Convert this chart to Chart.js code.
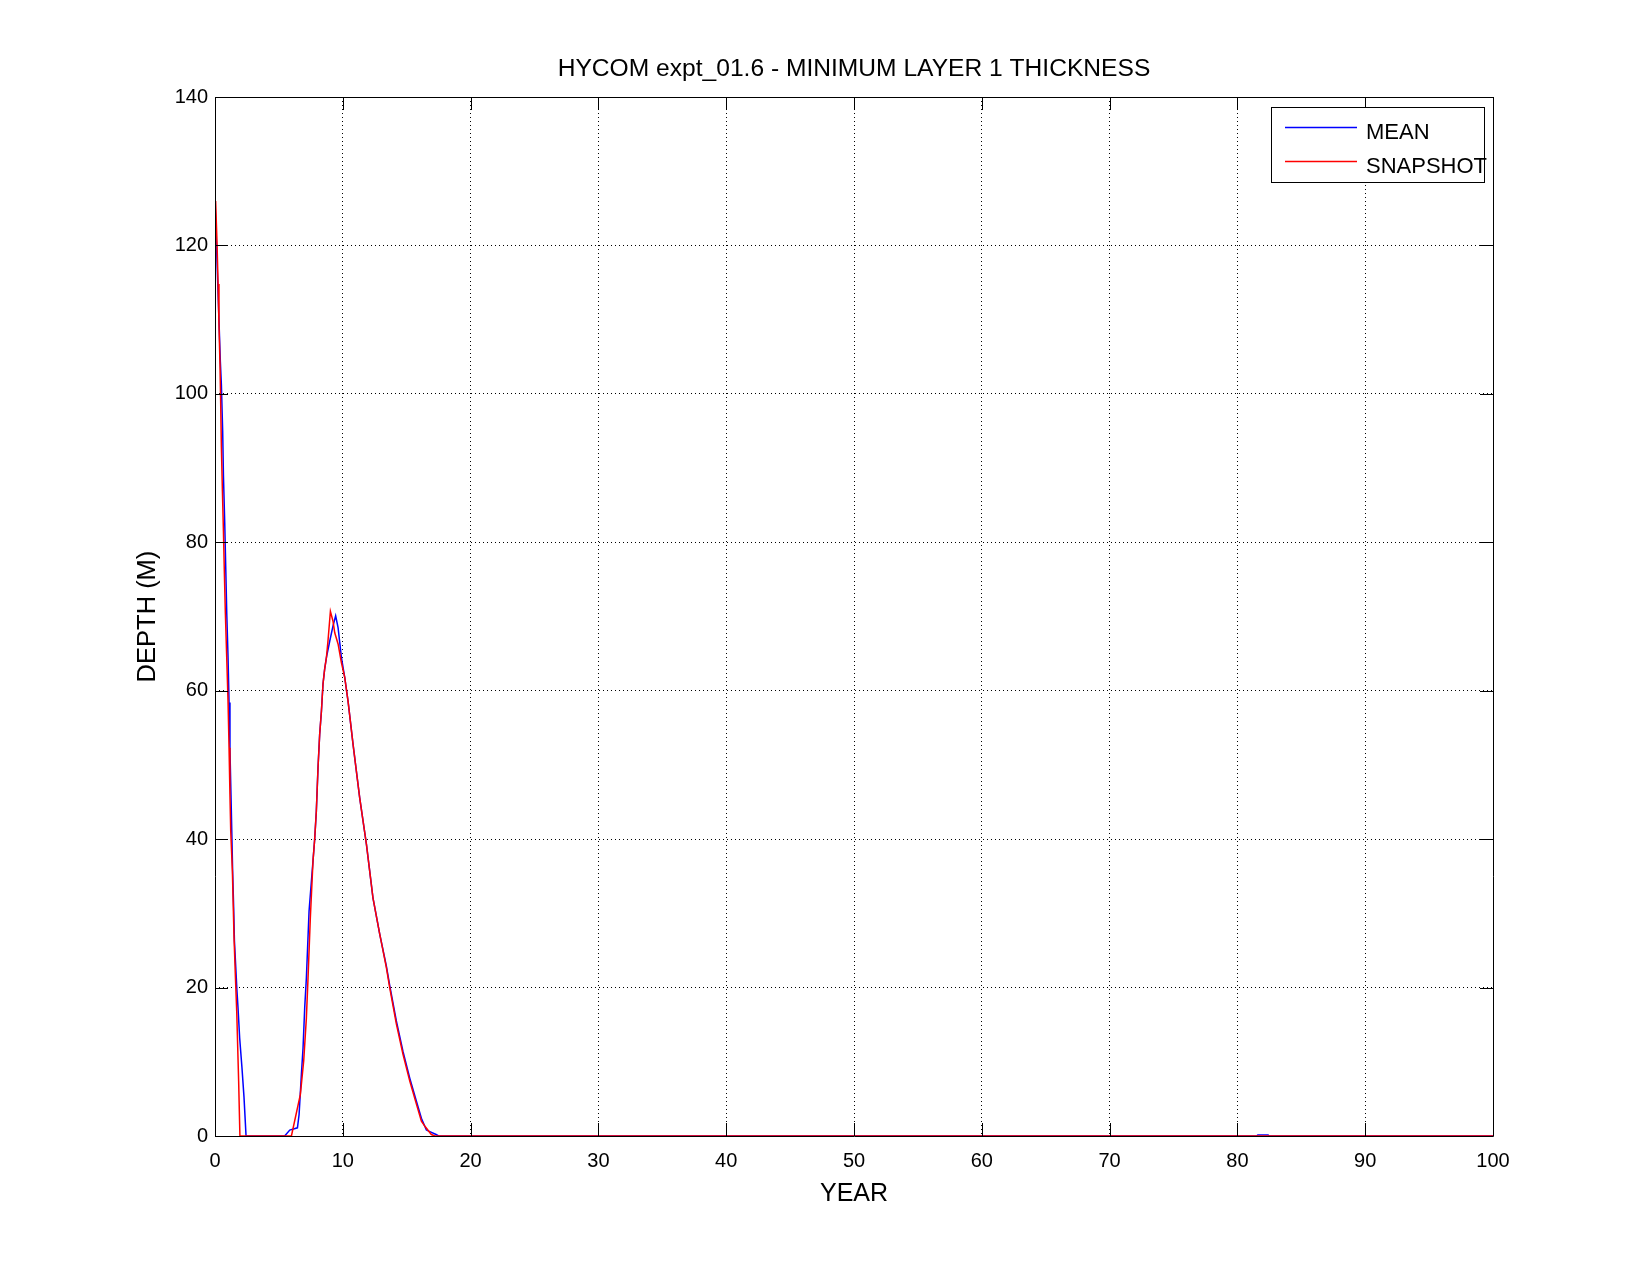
<!DOCTYPE html>
<html>
<head>
<meta charset="utf-8">
<title>HYCOM expt_01.6 - MINIMUM LAYER 1 THICKNESS</title>
<script src="https://cdn.jsdelivr.net/npm/chart.js@4/dist/chart.umd.min.js"></script>
<style>
  html, body { margin: 0; padding: 0; background: #ffffff; }
  #chart { display: block; }
</style>
</head>
<body>
<canvas id="chart" width="1650" height="1275"></canvas>
<script>
// values (year, depth in m)
const meanYears = [
  0, 0.42, 0.5, 0.6, 0.66, 0.76, 0.84, 0.92, 1.02, 1.1, 1.17, 1.25, 1.38, 1.46, 1.52,
  1.72, 1.8, 1.93, 2.11, 2.27, 2.43, 5.45, 5.85, 6.45, 6.58, 6.76, 6.89, 7.02, 7.15,
  7.36, 7.67, 7.8, 7.93, 8.06, 8.19, 8.33, 8.45, 8.58, 8.72, 8.98, 9.23, 9.44, 9.63,
  9.89, 10.15, 10.41, 10.8, 11.32, 11.85, 12.36, 12.89, 13.41, 13.67, 14.19, 14.71,
  15.24, 15.76, 16.15, 16.54, 17.3, 17.5, 81.5, 81.6, 82.4, 82.5, 100
];
const meanDepth = [
  126, 104.3, 101.2, 95, 89, 82.7, 76.6, 70.4, 64.5, 58.4, 52.1, 46, 35.7, 30.8, 26.3,
  19.5, 17.3, 13.2, 9.2, 5.2, 0, 0, 0.8, 1.1, 2.9, 8.3, 11.9, 17.3, 21.3,
  30.3, 37.1, 40, 43.8, 49.6, 54.1, 57.3, 60.9, 62.9, 64.5, 66.7, 68.7, 70.1, 68.5,
  64.5, 61.8, 58.6, 52.8, 45.6, 39.3, 32.1, 27.2, 22.9, 20.3, 15.5, 11.4,
  7.8, 4.7, 2.4, 0.8, 0.2, 0, 0, 0.15, 0.15, 0, 0
];

const snapshotYears = [
  0.05, 0.16, 0.24, 0.31, 0.39, 0.45, 0.5, 0.58, 0.66, 0.73, 0.81, 0.91, 1.02, 1.1,
  1.17, 1.23, 1.36, 1.49, 1.6, 1.7, 1.85, 1.95, 5.98, 6.68, 6.94, 7.15, 7.28, 7.46,
  7.67, 7.8, 7.93, 8.06, 8.19, 8.33, 8.45, 8.58, 8.72, 8.84, 9.03, 9.23, 9.37, 9.63,
  9.89, 10.15, 10.41, 10.8, 11.32, 11.85, 12.36, 12.89, 13.41, 13.67, 14.19, 14.71,
  15.24, 15.76, 16.15, 16.41, 16.93, 17.2, 100
];
const snapshotDepth = [
  126, 120.2, 114.8, 109.4, 104, 98.2, 92.8, 86.9, 81.5, 76.1, 70.5, 64.9, 58.6, 52.3,
  46, 41.1, 35.7, 26.7, 21.3, 16.8, 7.4, 0, 0, 5.6, 10.1, 15.9, 21.3, 29.4,
  37.1, 40, 43.8, 49.6, 54.1, 57.3, 60.9, 62.9, 64.5, 66.7, 70.7, 69.4, 67.8, 66.3,
  63.8, 61.8, 58.6, 52.8, 45.6, 39.3, 32.1, 27.2, 22.7, 20, 15.1, 11,
  7.4, 4.3, 2, 1.35, 0.2, 0, 0
];

const seriesNames = ['MEAN', 'SNAPSHOT'];
const xTicks = [0, 10, 20, 30, 40, 50, 60, 70, 80, 90, 100];
const yTicks = [0, 20, 40, 60, 80, 100, 120, 140];

const FONT = "'Liberation Sans', Arial, Helvetica, sans-serif";

function toPoints(xs, ys) {
  return xs.map((x, i) => ({ x: x, y: ys[i] }));
}

// matlab style box with inward tick marks on all four sides
const framePlugin = {
  id: 'frame',
  afterDatasetsDraw(chart) {
    const { ctx, chartArea: a, scales } = chart;
    const len = 13;
    ctx.save();
    ctx.strokeStyle = '#000';
    ctx.lineWidth = 1;
    ctx.beginPath();
    ctx.rect(Math.round(a.left) + 0.5, Math.round(a.top) + 0.5,
      Math.round(a.right - a.left), Math.round(a.bottom - a.top));
    xTicks.forEach(v => {
      const px = Math.round(scales.x.getPixelForValue(v)) + 0.5;
      ctx.moveTo(px, a.bottom); ctx.lineTo(px, a.bottom - len);
      ctx.moveTo(px, a.top); ctx.lineTo(px, a.top + len);
    });
    yTicks.forEach(v => {
      const py = Math.round(scales.y.getPixelForValue(v)) + 0.5;
      ctx.moveTo(a.left, py); ctx.lineTo(a.left + len, py);
      ctx.moveTo(a.right, py); ctx.lineTo(a.right - len, py);
    });
    ctx.stroke();
    ctx.restore();
  }
};

// legend box in the upper right corner of the plot
const boxLegend = {
  id: 'boxLegend',
  afterDraw(chart) {
    const { ctx } = chart;
    const x0 = 1271.5, y0 = 107.5, w = 213, h = 75;
    ctx.save();
    ctx.fillStyle = '#fff';
    ctx.fillRect(x0, y0, w, h);
    ctx.strokeStyle = '#000';
    ctx.lineWidth = 1;
    ctx.strokeRect(x0, y0, w, h);
    chart.data.datasets.forEach((ds, i) => {
      const ly = 127.5 + i * 34;
      ctx.strokeStyle = ds.borderColor;
      ctx.lineWidth = 1.3;
      ctx.beginPath();
      ctx.moveTo(1285, ly);
      ctx.lineTo(1357, ly);
      ctx.stroke();
      ctx.fillStyle = '#000';
      ctx.font = '22px ' + FONT;
      ctx.textBaseline = 'middle';
      ctx.textAlign = 'left';
      ctx.fillText(ds.label, 1366, ly + 5);
    });
    ctx.restore();
  }
};

const ctx = document.getElementById('chart').getContext('2d');
new Chart(ctx, {
  type: 'line',
  data: {
    datasets: [
      {
        label: seriesNames[0],
        data: toPoints(meanYears, meanDepth),
        borderColor: '#0000ff',
        borderWidth: 1.5,
        pointRadius: 0,
        tension: 0,
        fill: false,
        order: 2,
      },
      {
        label: seriesNames[1],
        data: toPoints(snapshotYears, snapshotDepth),
        borderColor: '#ff0000',
        borderWidth: 1.5,
        pointRadius: 0,
        tension: 0,
        fill: false,
        order: 1,
      },
    ],
  },
  options: {
    responsive: false,
    animation: false,
    layout: { padding: { left: 0, right: 157, top: 0, bottom: 0 } },
    scales: {
      x: {
        type: 'linear',
        min: 0,
        max: 100,
        afterFit: s => { s.height = 139; },
        afterBuildTicks: s => { s.ticks = xTicks.map(v => ({ value: v })); },
        ticks: { color: '#000', padding: 13, font: { family: FONT, size: 20 } },
        grid: { color: '#000', lineWidth: 1, drawTicks: false },
        border: { display: false, dash: [1, 3] },
        title: {
          display: true,
          text: 'YEAR',
          color: '#000',
          font: { family: FONT, size: 25 },
          padding: { top: 0, bottom: 66 },
        },
      },
      y: {
        type: 'linear',
        min: 0,
        max: 140,
        afterFit: s => { s.width = 215; },
        afterBuildTicks: s => { s.ticks = yTicks.map(v => ({ value: v })); },
        ticks: { color: '#000', padding: 7, font: { family: FONT, size: 20 } },
        grid: { color: '#000', lineWidth: 1, drawTicks: false },
        border: { display: false, dash: [1, 3] },
        title: {
          display: true,
          text: 'DEPTH (M)',
          color: '#000',
          font: { family: FONT, size: 25.5 },
          padding: { top: 133, bottom: 0 },
        },
      },
    },
    plugins: {
      legend: { display: false },
      tooltip: { enabled: false },
      title: {
        display: true,
        fullSize: false,
        text: 'HYCOM expt_01.6 - MINIMUM LAYER 1 THICKNESS',
        color: '#000',
        font: { family: FONT, size: 24.6, weight: 'normal' },
        padding: { top: 54, bottom: 13.5 },
      },
    },
  },
  plugins: [framePlugin, boxLegend],
});
</script>
</body>
</html>
